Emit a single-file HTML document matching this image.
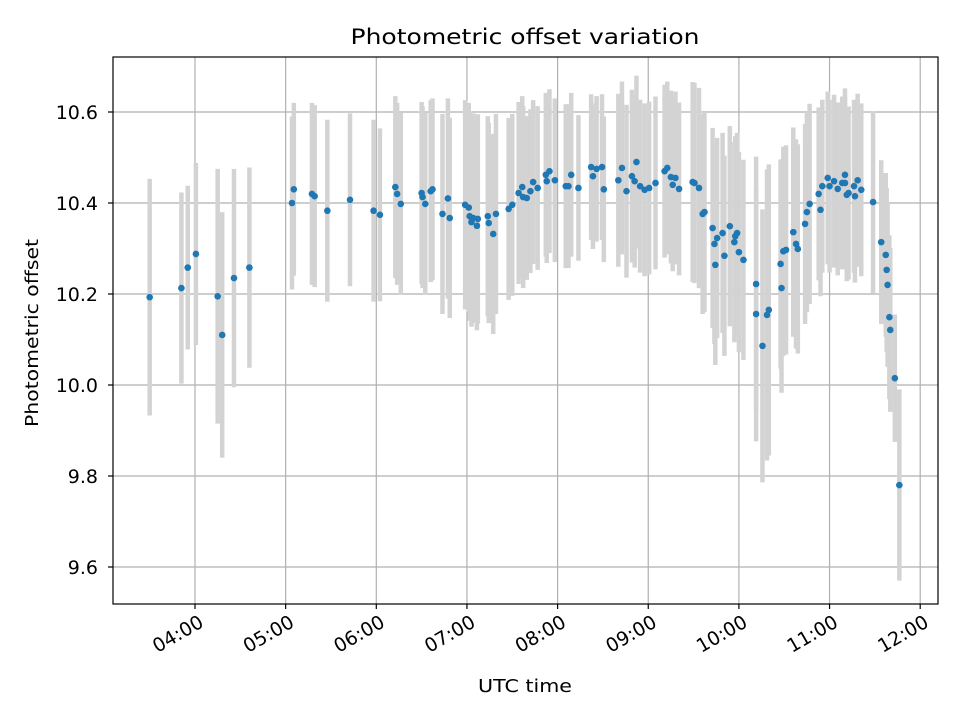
<!DOCTYPE html>
<html><head><meta charset="utf-8"><style>
html,body{margin:0;padding:0;background:#fff;}
svg{display:block;font-family:"DejaVu Sans","Liberation Sans",sans-serif;}
</style></head><body>
<svg id="chart" width="960" height="720" viewBox="0 0 960 720">
<rect x="0" y="0" width="960" height="720" fill="#fff"/>
<text x="525" y="44" font-size="21" text-anchor="middle" textLength="349" lengthAdjust="spacingAndGlyphs">Photometric offset variation</text>
<text x="525" y="692" font-size="18" text-anchor="middle" textLength="94" lengthAdjust="spacingAndGlyphs">UTC time</text>
<text transform="translate(38,333) rotate(-90)" font-size="18" text-anchor="middle" textLength="188" lengthAdjust="spacingAndGlyphs">Photometric offset</text>
<g id="grid"></g>
<g id="errbars"></g>
<g id="points"></g>
<rect x="113" y="57" width="825" height="547" fill="none" stroke="#000" stroke-width="1.2"/>
<g id="axes"></g>
</svg>
<script>
const times = [3.50,3.85,3.92,4.01,4.25,4.30,4.43,4.60,5.07,5.09,5.29,5.32,5.46,5.71,5.97,6.04,6.21,6.23,6.27,6.50,6.51,6.54,6.60,6.62,6.73,6.79,6.81,6.98,7.02,7.03,7.07,7.05,7.12,7.11,7.23,7.24,7.29,7.32,7.46,7.50,7.57,7.61,7.62,7.66,7.70,7.73,7.78,7.87,7.88,7.91,7.97,8.09,8.12,8.15,8.23,8.37,8.39,8.43,8.49,8.51,8.67,8.71,8.76,8.82,8.85,8.87,8.91,8.96,9.01,9.08,9.18,9.21,9.25,9.27,9.30,9.34,9.49,9.51,9.56,9.60,9.62,9.71,9.76,9.73,9.74,9.82,9.84,9.90,9.98,9.96,9.95,10.00,10.05,10.19,10.19,10.26,10.31,10.33,10.46,10.47,10.49,10.52,10.60,10.63,10.65,10.73,10.75,10.78,10.88,10.90,10.92,10.98,11.00,11.05,11.09,11.14,11.17,11.17,11.19,11.21,11.27,11.28,11.31,11.35,11.48,11.57,11.62,11.63,11.64,11.66,11.67,11.72,11.77];
const offsets = [10.193,10.213,10.258,10.288,10.195,10.110,10.235,10.258,10.400,10.430,10.420,10.415,10.383,10.407,10.383,10.374,10.435,10.420,10.398,10.422,10.413,10.398,10.426,10.430,10.376,10.410,10.367,10.396,10.390,10.371,10.367,10.358,10.365,10.350,10.371,10.356,10.332,10.376,10.387,10.396,10.422,10.435,10.413,10.411,10.426,10.446,10.433,10.462,10.448,10.470,10.450,10.437,10.437,10.462,10.433,10.479,10.459,10.475,10.479,10.430,10.450,10.477,10.426,10.459,10.448,10.490,10.437,10.429,10.433,10.444,10.470,10.477,10.457,10.440,10.455,10.431,10.446,10.444,10.433,10.376,10.380,10.345,10.323,10.310,10.264,10.334,10.284,10.349,10.334,10.327,10.314,10.292,10.275,10.222,10.156,10.086,10.154,10.165,10.266,10.213,10.294,10.297,10.336,10.310,10.299,10.354,10.380,10.398,10.420,10.385,10.437,10.455,10.437,10.448,10.431,10.444,10.462,10.444,10.418,10.422,10.437,10.415,10.450,10.429,10.402,10.314,10.286,10.253,10.220,10.149,10.121,10.015,9.780];
const errors = [0.26,0.21,0.18,0.20,0.28,0.27,0.24,0.22,0.19,0.19,0.20,0.20,0.20,0.19,0.20,0.19,0.20,0.20,0.20,0.20,0.20,0.20,0.20,0.20,0.22,0.22,0.22,0.23,0.23,0.23,0.23,0.23,0.23,0.23,0.22,0.22,0.22,0.22,0.20,0.20,0.20,0.20,0.20,0.18,0.18,0.18,0.18,0.18,0.18,0.18,0.18,0.18,0.18,0.18,0.16,0.16,0.16,0.16,0.16,0.16,0.19,0.19,0.19,0.19,0.19,0.19,0.19,0.19,0.19,0.19,0.19,0.19,0.19,0.19,0.19,0.19,0.22,0.22,0.22,0.22,0.22,0.22,0.22,0.22,0.22,0.22,0.22,0.22,0.22,0.22,0.22,0.22,0.22,0.28,0.28,0.30,0.32,0.32,0.23,0.23,0.23,0.23,0.23,0.23,0.23,0.22,0.22,0.22,0.19,0.19,0.19,0.19,0.19,0.19,0.19,0.19,0.19,0.19,0.19,0.19,0.19,0.19,0.19,0.19,0.20,0.18,0.18,0.18,0.18,0.18,0.18,0.14,0.21];
const xTickHours = [4,5,6,7,8,9,10,11,12];
const xTickLabels = ["04:00","05:00","06:00","07:00","08:00","09:00","10:00","11:00","12:00"];
const yTickValues = [9.6,9.8,10.0,10.2,10.4,10.6];
const yTickLabels = ["9.6","9.8","10.0","10.2","10.4","10.6"];

const NS = "http://www.w3.org/2000/svg";
function xScale(h){ return 195 + (h - 4) * 90.65; }
function yScale(v){ return 203 - (v - 10.4) * 455; }
function mk(tag, attrs, parent){ const e = document.createElementNS(NS, tag); for (const k in attrs) e.setAttribute(k, attrs[k]); parent.appendChild(e); return e; }

const grid = document.getElementById('grid');
const axes = document.getElementById('axes');
const eb = document.getElementById('errbars');
const pts = document.getElementById('points');

xTickHours.forEach((h, i) => {
  const x = xScale(h);
  const g = mk('line', {x1:x, x2:x, y1:57, y2:604, stroke:'#b0b0b0', 'stroke-width':1.2}, grid);
  
  
  const t = mk('line', {x1:x, x2:x, y1:604, y2:609, stroke:'#000', 'stroke-width':1.2}, axes);
  
  
  const lb = mk('text', {transform:`translate(${x+3},${614}) rotate(-30)`, 'font-size':19, 'text-anchor':'end', 'dominant-baseline':'hanging'}, axes);
  lb.textContent = xTickLabels[i];
  
  
});
yTickValues.forEach((v, i) => {
  const y = yScale(v);
  const g = mk('line', {x1:113, x2:938, y1:y, y2:y, stroke:'#b0b0b0', 'stroke-width':1.2}, grid);
  
  
  const t = mk('line', {x1:108, x2:113, y1:y, y2:y, stroke:'#000', 'stroke-width':1.2}, axes);
  
  
  const lb = mk('text', {x:98, y:y+7, 'font-size':19, 'text-anchor':'end'}, axes);
  lb.textContent = yTickLabels[i];
  
  
});
times.forEach((h, i) => {
  const x = xScale(h);
  const b = mk('line', {x1:x, x2:x, y1:yScale(offsets[i] + errors[i]), y2:yScale(offsets[i] - errors[i]), stroke:'#d3d3d3', 'stroke-width':4.5}, eb);
  
  
});
times.forEach((h, i) => {
  const c = mk('circle', {cx:xScale(h), cy:yScale(offsets[i]), r:3.3, fill:'#1f77b4'}, pts);
  
  
});
</script>
</body></html>
